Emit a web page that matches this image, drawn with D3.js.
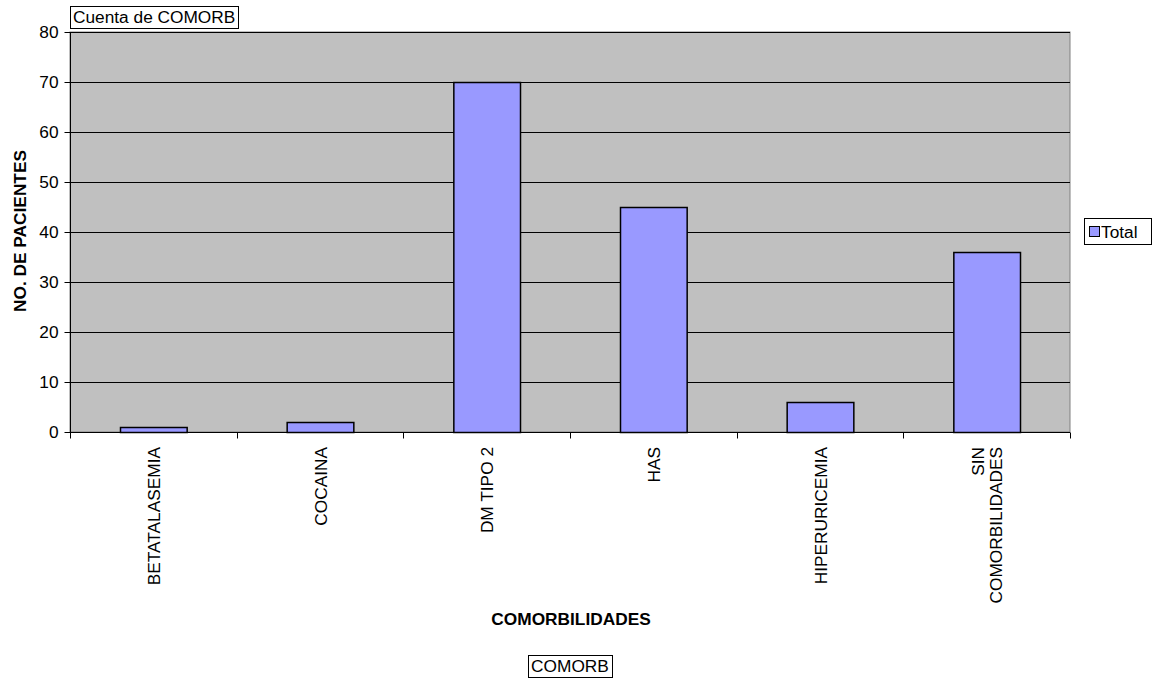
<!DOCTYPE html>
<html><head><meta charset="utf-8">
<script src="https://cdn.jsdelivr.net/npm/d3@7"></script>
<style>body{margin:0;background:#fff}text{font-family:Arial,"Liberation Sans",sans-serif;fill:#000}</style>
</head><body>
<svg id="c" width="1159" height="681"></svg>
<script>
const categories = ["BETATALASEMIA","COCAINA","DM TIPO 2","HAS","HIPERURICEMIA","SIN COMORBILIDADES"];
const categoryLines = [["BETATALASEMIA"],["COCAINA"],["DM TIPO 2"],["HAS"],["HIPERURICEMIA"],["SIN","COMORBILIDADES"]];
const totals = [1,2,70,45,6,36];
const yTicks = [0,10,20,30,40,50,60,70,80];
const seriesName = "Total";

const svg = d3.select("#c");
const fs = 17.3;
const m = {l:70, t:32, r:1070, b:432};
const xb = d3.scaleBand().domain(categories).range([m.l, m.r]);
const y = d3.scaleLinear().domain([0,80]).range([m.b, m.t]);

svg.append("rect").attr("x",m.l).attr("y",m.t).attr("width",m.r-m.l).attr("height",m.b-m.t).attr("fill","#c0c0c0").attr("stroke","#808080");

// gridlines
svg.append("g").selectAll("line").data(yTicks.filter(d=>d>0)).join("line")
  .attr("x1",m.l).attr("x2",m.r).attr("y1",d=>y(d)+0.5).attr("y2",d=>y(d)+0.5).attr("stroke","#000");

// bars
svg.append("g").selectAll("rect").data(categories).join("rect")
  .attr("x",(d)=>xb(d)+xb.bandwidth()*0.3+0.5)
  .attr("width",xb.bandwidth()*0.4)
  .attr("y",(d,i)=>y(totals[i])+0.5)
  .attr("height",(d,i)=>y(0)-y(totals[i]))
  .attr("fill","#9999ff").attr("stroke","#000").attr("stroke-width",1.5);

// y axis
const ya = svg.append("g").attr("transform",`translate(${m.l+0.5},0)`)
  .call(d3.axisLeft(y).tickValues(yTicks).tickSize(6).tickPadding(6));
ya.select(".domain").attr("stroke","#000").attr("d",`M0,${m.t}V${m.b}`);
ya.selectAll(".tick line").attr("stroke","#000");
ya.selectAll("text").attr("font-size",fs).attr("font-family","Arial, 'Liberation Sans', sans-serif").attr("fill","#000");

// x axis
const xa = svg.append("g").attr("transform",`translate(0,${m.b+0.5})`);
xa.append("line").attr("x1",m.l).attr("x2",m.r).attr("stroke","#000");
const bounds = d3.range(categories.length+1).map(i=>m.l + i*xb.step());
xa.selectAll("line.t").data(bounds).join("line").attr("class","t")
  .attr("x1",d=>Math.round(d)+0.5).attr("x2",d=>Math.round(d)+0.5).attr("y1",0).attr("y2",6).attr("stroke","#000");
categories.forEach((c,i)=>{
  const lines = categoryLines[i];
  const cx = xb(c)+xb.bandwidth()/2;
  const t = xa.append("text").attr("transform",`translate(${cx},14.5) rotate(-90)`)
    .attr("text-anchor","end").attr("font-size",fs);
  const lh = 18;
  lines.forEach((l,j)=>{
    t.append("tspan").attr("x",0).attr("y", (j - (lines.length-1)/2)*lh + 6.5).text(l);
  });
});

// axis titles
svg.append("text").attr("transform","translate(26,231) rotate(-90)").attr("text-anchor","middle")
  .attr("font-size",fs).attr("font-weight","bold").text("NO. DE PACIENTES");
svg.append("text").attr("x",571).attr("y",625).attr("text-anchor","middle")
  .attr("font-size",fs).attr("font-weight","bold").text("COMORBILIDADES");

// field buttons
function boxText(cx, cy, txt, anchor){
  const g = svg.append("g");
  const t = g.append("text").attr("font-size",fs).text(txt);
  const w = t.node().getComputedTextLength();
  const x0 = anchor==="middle" ? cx - w/2 : cx;
  t.attr("x",x0).attr("y",cy+6);
  g.insert("rect","text").attr("x",Math.round(x0-3)+0.5).attr("y",Math.round(cy-11)+0.5)
    .attr("width",Math.round(w+6)).attr("height",22).attr("fill","#fff").attr("stroke","#000");
}
boxText(73, 17, "Cuenta de COMORB", "start");
boxText(570, 666, "COMORB", "middle");

// legend
const lg = svg.append("g");
lg.append("rect").attr("x",1084.5).attr("y",218.5).attr("width",67).attr("height",26).attr("fill","#fff").attr("stroke","#000");
lg.append("rect").attr("x",1089.5).attr("y",226.5).attr("width",10).attr("height",10).attr("fill","#9999ff").attr("stroke","#000");
lg.append("text").attr("x",1101).attr("y",238).attr("font-size",fs).text(seriesName);
</script>
</body></html>
